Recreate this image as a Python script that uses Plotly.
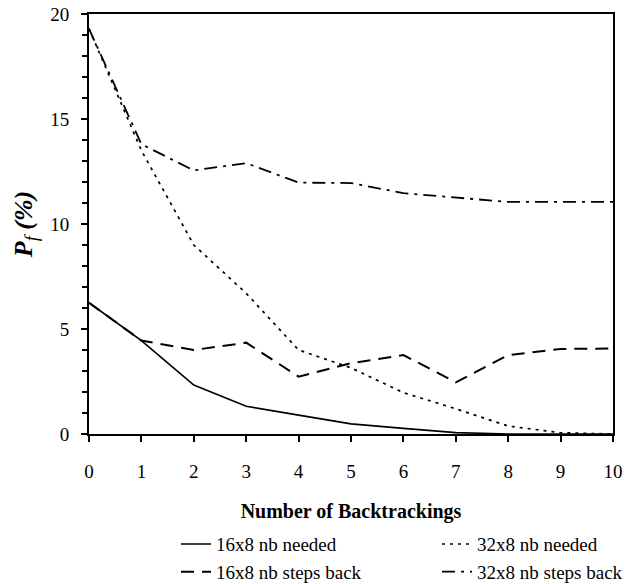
import plotly.graph_objects as go

# Number of backtrackings on the x axis
backtrackings = [0, 1, 2, 3, 4, 5, 6, 7, 8, 9, 10]

# Failure probability P_f (%) for each configuration
needed_16x8 = [6.25, 4.45, 2.33, 1.32, 0.90, 0.48, 0.27, 0.07, 0.0, 0.0, 0.0]
needed_32x8 = [19.3, 13.5, 9.0, 6.7, 4.0, 3.15, 1.97, 1.2, 0.38, 0.06, 0.0]
steps_16x8 = [6.25, 4.45, 4.0, 4.35, 2.73, 3.37, 3.76, 2.46, 3.76, 4.05, 4.07]
steps_32x8 = [19.3, 13.8, 12.55, 12.9, 11.97, 11.95, 11.47, 11.25, 11.05, 11.05, 11.05]

series = [
    # name, values, dash pattern, width, legend rank
    ("16x8 nb steps back", steps_16x8, "13px,8px", 2.0, 3),
    ("32x8 nb steps back", steps_32x8, "13px,6px,3px,6px", 1.8, 4),
    ("32x8 nb needed", needed_32x8, "3px,5px", 1.7, 2),
    ("16x8 nb needed", needed_16x8, "solid", 1.7, 1),
]

SERIF = "Liberation Serif, Times New Roman, serif"

fig = go.Figure()
for name, values, dash, width, rank in series:
    fig.add_trace(go.Scatter(
        x=backtrackings, y=values, name=name, mode="lines",
        line=dict(color="black", width=width, dash=dash),
        legendrank=rank, cliponaxis=False,
    ))

fig.update_layout(
    width=630, height=584,
    margin=dict(l=89, r=17, t=14, b=150, autoexpand=False),
    paper_bgcolor="white", plot_bgcolor="white",
    font=dict(family=SERIF, size=19, color="black"),
    showlegend=True,
    legend=dict(
        orientation="h", x=0.166, xanchor="left", y=-0.217, yanchor="top",
        entrywidth=216, entrywidthmode="pixels",
        font=dict(family=SERIF, size=19, color="black"),
        bgcolor="rgba(0,0,0,0)", itemwidth=30,
    ),
)

fig.update_xaxes(
    range=[0, 10], dtick=1, tick0=0,
    showgrid=False, zeroline=False,
    showline=True, linecolor="black", linewidth=2, mirror=True,
    ticks="outside", ticklen=6, tickwidth=2, tickcolor="black",
    ticklabelstandoff=13,
    tickfont=dict(family=SERIF, size=19),
    title=dict(text="<b>Number of Backtrackings</b>", standoff=23,
               font=dict(family=SERIF, size=20)),
)

fig.update_yaxes(
    range=[0, 20], dtick=5, tick0=0,
    showgrid=False, zeroline=False,
    showline=True, linecolor="black", linewidth=2, mirror=True,
    ticks="outside", ticklen=6, tickwidth=2, tickcolor="black",
    ticklabelstandoff=8,
    minor=dict(dtick=1, ticks="outside", ticklen=5, tickwidth=1.5,
               tickcolor="black", showgrid=False),
    tickfont=dict(family=SERIF, size=19),
    title=dict(text="<b><i>P</i></b><sub><i>f</i></sub><b><i> (%)</i></b>",
               standoff=10, font=dict(family=SERIF, size=26)),
)

fig.write_html("out.html")
